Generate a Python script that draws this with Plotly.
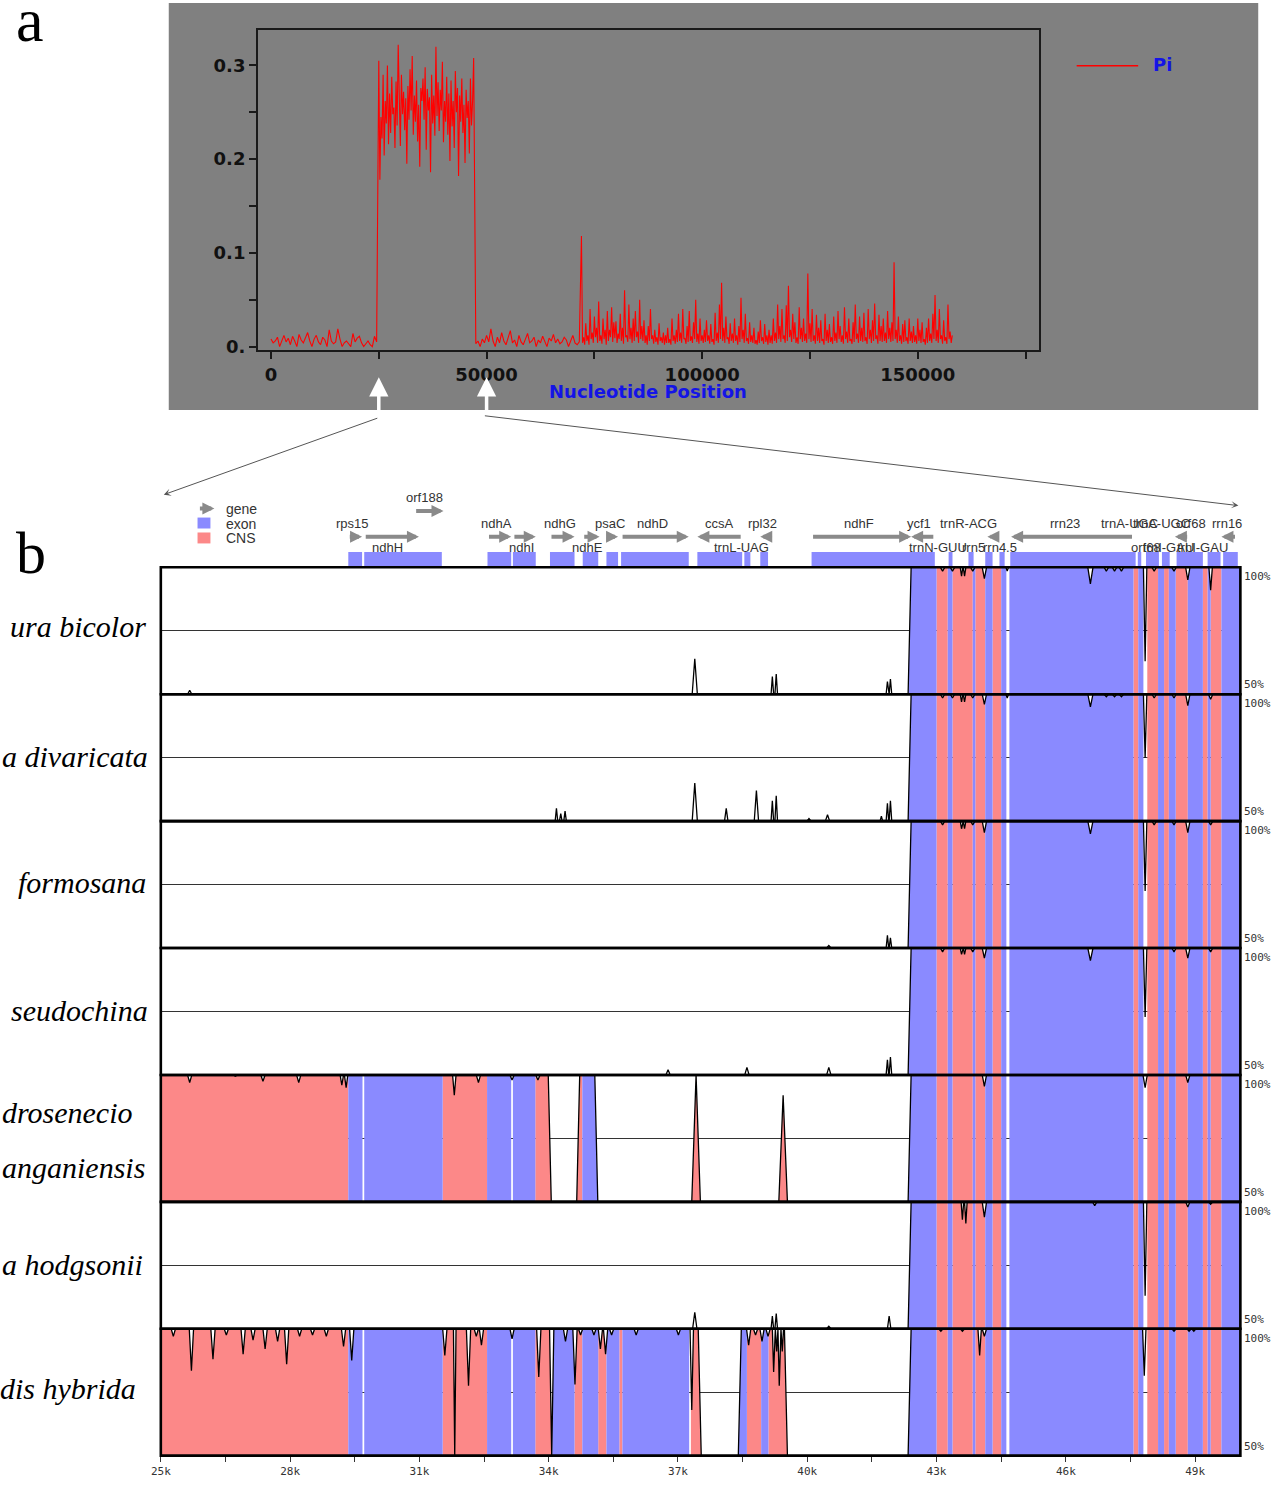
import numpy as np
import plotly.graph_objects as go

W, H = 1288, 1490


def px(x):
    return x / W


def py(y):
    return 1 - y / H


# ====================== DATA: panel a (nucleotide diversity, Pi) ======================
PI_SEG_A_START, PI_SEG_A_STEP = 0, 500
PI_SEG_A = [0.008, 0.004, 0.006, 0.010, 0.000, 0.007, 0.012, 0.005, 0.009, 0.002,
            0.011, 0.006, 0.000, 0.013, 0.007, 0.004, 0.009, 0.015, 0.006, 0.000,
            0.008, 0.012, 0.005, 0.002, 0.010, 0.007, 0.000, 0.018, 0.006, 0.003,
            0.005, 0.019, 0.008, 0.000, 0.004, 0.006, 0.003, 0.000, 0.014, 0.005,
            0.009, 0.011, 0.004, 0.000, 0.003, 0.006, 0.002, 0.000, 0.011, 0.005]
PI_SEG_B_START, PI_SEG_B_STEP = 25000, 250
PI_SEG_B = [0.305, 0.178, 0.245, 0.222, 0.290, 0.204, 0.262, 0.238, 0.300, 0.216,
            0.270, 0.228, 0.288, 0.248, 0.255, 0.212, 0.283, 0.236, 0.322, 0.262,
            0.214, 0.290, 0.248, 0.272, 0.231, 0.265, 0.195, 0.278, 0.242, 0.296,
            0.252, 0.310, 0.226, 0.268, 0.240, 0.284, 0.219, 0.258, 0.192, 0.276,
            0.262, 0.286, 0.242, 0.298, 0.210, 0.275, 0.252, 0.266, 0.186, 0.290,
            0.238, 0.268, 0.225, 0.320, 0.246, 0.282, 0.230, 0.274, 0.252, 0.304,
            0.218, 0.262, 0.240, 0.288, 0.226, 0.270, 0.198, 0.284, 0.235, 0.262,
            0.212, 0.294, 0.250, 0.276, 0.182, 0.268, 0.240, 0.286, 0.228, 0.258,
            0.196, 0.274, 0.244, 0.262, 0.206, 0.286, 0.236, 0.262, 0.308]
PI_SEG_C_START, PI_SEG_C_STEP = 47500, 500
PI_SEG_C = [0.003, 0.006, 0.000, 0.008, 0.004, 0.012, 0.005, 0.019, 0.006, 0.000,
            0.010, 0.004, 0.015, 0.006, 0.002, 0.009, 0.017, 0.004, 0.007, 0.000,
            0.012, 0.005, 0.002, 0.008, 0.014, 0.004, 0.006, 0.010, 0.000, 0.007,
            0.004, 0.011, 0.005, 0.000, 0.009, 0.006, 0.013, 0.004, 0.008, 0.003,
            0.005, 0.010, 0.007, 0.000, 0.006, 0.012, 0.004, 0.002, 0.005]
PI_SEG_D_START, PI_SEG_D_STEP = 72000, 250
PI_SEG_D = [0.118, 0.004, 0.010, 0.002, 0.025, 0.006, 0.012, 0.002, 0.040, 0.008,
            0.015, 0.004, 0.032, 0.010, 0.020, 0.004, 0.048, 0.006, 0.012, 0.003,
            0.030, 0.008, 0.018, 0.002, 0.038, 0.006, 0.018, 0.010, 0.042, 0.005,
            0.026, 0.009, 0.027, 0.004, 0.014, 0.008, 0.035, 0.006, 0.020, 0.003,
            0.060, 0.010, 0.012, 0.005, 0.045, 0.008, 0.020, 0.004, 0.030, 0.006,
            0.038, 0.010, 0.016, 0.004, 0.050, 0.008, 0.022, 0.006, 0.028, 0.004,
            0.012, 0.002, 0.022, 0.006, 0.040, 0.008, 0.012, 0.003, 0.018, 0.005,
            0.010, 0.002, 0.025, 0.006, 0.010, 0.004, 0.015, 0.002, 0.012, 0.004,
            0.020, 0.004, 0.008, 0.002, 0.030, 0.006, 0.012, 0.003, 0.018, 0.005,
            0.035, 0.006, 0.015, 0.004, 0.040, 0.008, 0.009, 0.003, 0.022, 0.005,
            0.038, 0.006, 0.011, 0.004, 0.026, 0.008, 0.050, 0.005, 0.014, 0.003,
            0.030, 0.006, 0.012, 0.004, 0.018, 0.005, 0.028, 0.006, 0.012, 0.003,
            0.024, 0.005, 0.008, 0.002, 0.036, 0.006, 0.015, 0.004, 0.045, 0.008,
            0.068, 0.006, 0.020, 0.004, 0.032, 0.008, 0.010, 0.003, 0.025, 0.006,
            0.014, 0.004, 0.030, 0.006, 0.012, 0.002, 0.022, 0.005, 0.052, 0.008,
            0.018, 0.004, 0.035, 0.006, 0.009, 0.003, 0.026, 0.005, 0.012, 0.004,
            0.020, 0.003, 0.007, 0.002, 0.016, 0.004, 0.028, 0.006, 0.010, 0.003,
            0.024, 0.005, 0.012, 0.002, 0.018, 0.004, 0.012, 0.003, 0.030, 0.006,
            0.015, 0.004, 0.045, 0.008, 0.022, 0.005, 0.040, 0.008, 0.012, 0.004,
            0.044, 0.006, 0.065, 0.010, 0.018, 0.005, 0.035, 0.008, 0.026, 0.004,
            0.010, 0.003, 0.042, 0.008, 0.020, 0.005, 0.030, 0.006, 0.014, 0.004,
            0.078, 0.008, 0.025, 0.005, 0.040, 0.006, 0.012, 0.003, 0.034, 0.006,
            0.020, 0.004, 0.028, 0.006, 0.008, 0.002, 0.035, 0.006, 0.018, 0.004,
            0.024, 0.005, 0.010, 0.003, 0.032, 0.006, 0.015, 0.004, 0.038, 0.008,
            0.022, 0.005, 0.012, 0.003, 0.042, 0.008, 0.016, 0.004, 0.030, 0.006,
            0.008, 0.003, 0.026, 0.005, 0.045, 0.008, 0.014, 0.004, 0.032, 0.006,
            0.020, 0.005, 0.036, 0.006, 0.010, 0.003, 0.040, 0.008, 0.018, 0.004,
            0.028, 0.006, 0.046, 0.008, 0.012, 0.003, 0.034, 0.006, 0.022, 0.005,
            0.030, 0.006, 0.015, 0.004, 0.038, 0.008, 0.020, 0.005, 0.026, 0.006,
            0.090, 0.008, 0.018, 0.004, 0.032, 0.006, 0.012, 0.003, 0.024, 0.005,
            0.028, 0.006, 0.010, 0.003, 0.030, 0.006, 0.016, 0.004, 0.022, 0.005,
            0.012, 0.003, 0.030, 0.006, 0.018, 0.004, 0.026, 0.005, 0.008, 0.002,
            0.020, 0.004, 0.030, 0.006, 0.014, 0.004, 0.035, 0.008, 0.055, 0.006,
            0.018, 0.004, 0.040, 0.008, 0.012, 0.003, 0.028, 0.006, 0.010, 0.003,
            0.045, 0.008, 0.016, 0.004, 0.012]

PI_X_TICKS = [0, 25000, 50000, 75000, 100000, 125000, 150000, 175000]
PI_X_TICKTEXT = ["0", "", "50000", "", "100000", "", "150000", ""]
PI_Y_TICKS = [0, 0.05, 0.1, 0.15, 0.2, 0.25, 0.3]
PI_Y_TICKTEXT = ["0.", "", "0.1", "", "0.2", "", "0.3"]
ZOOM_REGION = [25000, 50000]

# ====================== DATA: panel b (mVISTA conservation, kb) ======================
SPECIES_LABELS = [["ura bicolor"], ["a divaricata"], ["formosana"], ["seudochina"],
                  ["drosenecio", "anganiensis"], ["a hodgsonii"], ["dis hybrida"]]

# Annotated regions (shared by all tracks): start kb, end kb, type
BANDS = [
    (24.90, 29.35, "CNS"), (29.35, 29.68, "exon"), (29.72, 31.54, "exon"),
    (31.54, 32.57, "CNS"), (32.57, 33.13, "exon"), (33.17, 33.69, "exon"),
    (33.69, 34.08, "CNS"), (34.08, 34.60, "exon"), (34.60, 34.78, "CNS"),
    (34.78, 35.15, "exon"), (35.15, 35.34, "CNS"), (35.34, 35.64, "exon"),
    (35.64, 35.71, "CNS"), (35.71, 37.26, "exon"), (37.30, 37.56, "CNS"),
    (38.40, 38.60, "exon"), (38.60, 38.93, "CNS"), (38.93, 39.10, "exon"),
    (39.10, 39.62, "CNS"),
    (42.30, 43.00, "exon"), (43.00, 43.26, "CNS"), (43.26, 43.37, "exon"),
    (43.37, 43.84, "CNS"), (43.84, 43.90, "exon"), (43.90, 44.13, "CNS"),
    (44.13, 44.30, "exon"), (44.30, 44.50, "CNS"), (44.50, 44.62, "exon"),
    (44.69, 47.57, "exon"), (47.57, 47.68, "CNS"), (47.68, 47.80, "exon"),
    (47.89, 48.14, "CNS"), (48.14, 48.28, "exon"), (48.28, 48.39, "CNS"),
    (48.39, 48.55, "exon"), (48.55, 48.83, "CNS"), (48.83, 49.18, "exon"),
    (49.18, 49.29, "CNS"), (49.29, 49.36, "exon"), (49.36, 49.61, "CNS"),
    (49.61, 50.20, "exon"),
]

# Conserved (100%) stretches per track
TRACK_SEGMENTS = [
    [(42.41, 50.2)],
    [(42.41, 50.2)],
    [(42.41, 50.2)],
    [(42.41, 50.2)],
    [(24.9, 33.99), (34.72, 35.07), (42.41, 50.2)],
    [(42.41, 50.2)],
    [(24.9, 37.47), (38.47, 39.47), (42.41, 50.2)],
]

# Local peaks / dips per track: (kb, identity %, [half width kb])
TRACK_SPIKES = [
    [(25.67, 51.5), (37.39, 64, 0.06), (39.19, 57, 0.03), (39.28, 58, 0.03),
     (41.86, 55, 0.03), (41.93, 56, 0.03),
     (43.14, 98.5), (43.37, 98.5), (43.58, 96.5, 0.03), (43.65, 96.5, 0.03), (43.84, 98.5),
     (44.11, 95.5), (44.64, 98.5, 0.03), (46.57, 93.5, 0.06), (46.94, 98.5), (47.13, 98.5),
     (47.29, 98.5), (47.84, 63, 0.04), (48.05, 98.5), (48.51, 98.5), (48.83, 95),
     (49.36, 91, 0.04)],
    [(34.18, 55, 0.03), (34.28, 53, 0.03), (34.38, 54, 0.03), (37.39, 65, 0.06),
     (38.12, 55, 0.04), (38.82, 62, 0.05), (39.19, 58, 0.03), (39.28, 60, 0.03),
     (40.04, 51), (40.47, 52.5), (41.72, 52, 0.03), (41.86, 57, 0.03), (41.93, 58, 0.03),
     (43.14, 98.5), (43.37, 98.5), (43.58, 97, 0.03), (43.65, 97, 0.03), (43.84, 98.5),
     (44.11, 96), (44.64, 98.5, 0.03), (46.57, 95, 0.06), (46.94, 99), (47.13, 99),
     (47.29, 99), (47.84, 75, 0.04), (48.05, 98.5), (48.51, 98.5), (48.83, 95.5),
     (49.36, 98)],
    [(40.50, 51), (41.86, 55, 0.03), (41.93, 54, 0.03),
     (43.14, 98.5), (43.58, 97, 0.03), (43.65, 97, 0.03), (43.84, 98.5), (44.11, 95.5),
     (46.57, 95, 0.06), (47.84, 72.5, 0.04), (48.05, 98.5), (48.51, 98.5), (48.83, 95.5),
     (49.36, 98.5)],
    [(36.77, 52), (38.60, 53), (40.50, 53), (41.86, 56, 0.03), (41.93, 57, 0.03),
     (43.14, 98.5), (43.58, 97.5, 0.03), (43.65, 97.5, 0.03), (43.84, 98.5), (44.11, 96),
     (46.57, 95, 0.06), (47.84, 72.8, 0.04), (48.51, 98.5), (48.83, 96), (49.36, 98.5)],
    [(25.67, 97), (26.73, 99.5), (27.37, 97.5), (28.20, 97), (29.20, 96, 0.04),
     (29.30, 95, 0.04), (31.81, 92, 0.04), (32.37, 97), (33.15, 98), (33.75, 98),
     (37.42, 100, 0.10), (39.44, 92, 0.10),
     (44.11, 95.5), (47.84, 95), (48.83, 97)],
    [(37.39, 56.5, 0.05), (39.19, 55, 0.03), (39.28, 56, 0.03), (40.50, 51),
     (41.90, 55, 0.04),
     (43.60, 93, 0.03), (43.68, 91.5, 0.03), (44.11, 94), (46.67, 98.5), (47.84, 63, 0.04),
     (48.83, 98), (49.36, 99)],
    [(25.29, 97), (25.71, 83.5), (26.21, 88), (26.52, 97.5), (26.91, 90), (27.14, 95.5),
     (27.42, 92), (27.71, 95), (27.92, 86), (28.22, 97), (28.52, 97.5), (28.84, 97),
     (29.24, 93), (29.43, 87.5), (31.59, 89.5), (31.82, 50, 0.03), (32.14, 77.5),
     (32.32, 97), (32.44, 93.5), (33.15, 96), (33.77, 81), (34.07, 50, 0.05),
     (34.39, 95), (34.61, 78), (34.74, 97.5), (35.05, 97.5), (35.20, 92), (35.32, 90),
     (35.46, 97.5), (36.03, 97.5), (37.01, 97.5), (37.32, 68, 0.04),
     (38.64, 93.5), (38.80, 97.5), (38.95, 95), (39.09, 97), (39.22, 83, 0.03),
     (39.29, 91, 0.03), (39.35, 77.5, 0.03), (39.42, 91, 0.03),
     (43.10, 99), (43.60, 99), (44.00, 89.5, 0.04), (44.11, 97), (47.82, 81.5, 0.04),
     (48.51, 99), (48.86, 99), (48.97, 99)],
]

# Gene annotation: name, start kb, end kb, strand, label row, label x (kb)
GENES = [
    ("rps15", 29.35, 29.67, 1, "top", 29.44),
    ("ndhH", 29.72, 30.99, 1, "bot", 30.25),
    ("orf188", 30.89, 31.56, 1, "hi", 31.12),
    ("ndhA", 32.58, 33.13, 1, "top", 32.78),
    ("ndhI", 33.17, 33.70, 1, "bot", 33.38),
    ("ndhG", 34.03, 34.60, 1, "top", 34.26),
    ("ndhE", 34.79, 35.18, 1, "bot", 34.90),
    ("psaC", 35.34, 35.61, 1, "top", 35.43),
    ("ndhD", 35.68, 37.25, 1, "top", 36.42),
    ("ccsA", 37.45, 38.49, -1, "top", 37.96),
    ("trnL-UAG", 38.54, 38.63, -1, "bot", 38.47),
    ("rpl32", 38.91, 39.09, -1, "top", 38.95),
    ("ndhF", 40.10, 42.41, 1, "top", 41.21),
    ("ycf1", 42.41, 42.96, -1, "top", 42.60),
    ("trnN-GUU", 43.28, 43.37, 1, "bot", 43.04),
    ("trnR-ACG", 43.72, 43.82, -1, "top", 43.74),
    ("rrn5", 44.18, 44.30, -1, "bot", 43.86),
    ("rrn4.5", 44.50, 44.60, -1, "bot", 44.48),
    ("rrn23", 44.73, 47.57, -1, "top", 45.98),
    ("trnA-UGC", 47.64, 47.70, -1, "top", 47.47),
    ("orf68", 47.86, 47.92, 1, "bot", 47.86),
    ("trnA-UGC", 48.10, 48.18, 1, "top", 48.21),
    ("trnI-GAU", 48.28, 48.33, 1, "bot", 48.39),
    ("orf68", 48.53, 48.85, -1, "top", 48.90),
    ("trnI-GAU", 49.00, 49.08, -1, "bot", 49.18),
    ("", 49.22, 49.27, -1, "top", 49.25),
    ("rrn16", 49.61, 49.96, -1, "top", 49.73),
]

EXONS = [(29.35, 29.67), (29.72, 31.52), (32.58, 33.13), (33.17, 33.70), (34.03, 34.60),
         (34.79, 35.15), (35.34, 35.61), (35.68, 37.25), (37.45, 38.49), (38.54, 38.68),
         (38.91, 39.09), (40.10, 42.96), (43.28, 43.37), (43.74, 43.86), (44.13, 44.30),
         (44.46, 44.58), (44.71, 47.62), (47.67, 47.75), (47.86, 48.16), (48.23, 48.41),
         (48.57, 49.18), (49.29, 49.59), (49.65, 49.99)]

KB_TICKS = [25, 28, 31, 34, 37, 40, 43, 46, 49]
KB_TICKTEXT = ["25k", "28k", "31k", "34k", "37k", "40k", "43k", "46k", "49k"]

# ====================== STYLE ======================
BLUE = "rgb(138,138,255)"
PINK = "rgb(252,136,136)"
BAND_COLORS = {"exon": BLUE, "CNS": PINK}
GENE_GRAY = "#8a8a8a"
TRACK_TOP = 570.0
TRACK_H = 127.5
X_KB_RANGE = [25.0, 50.05]
LABEL_RIGHT_PX = [[139], [141], [139], [141], [126, 138], [136], [129]]
LABEL_DY = [[-4], [-1], [-2], [-1], [-26, 29], [-1], [-4]]
BOLD_FONT = "DejaVu Sans"

fig = go.Figure()

# ---------------- panel a ----------------
pi_x, pi_y = [], []
for start, step, seg in [(PI_SEG_A_START, PI_SEG_A_STEP, PI_SEG_A),
                         (PI_SEG_B_START, PI_SEG_B_STEP, PI_SEG_B),
                         (PI_SEG_C_START, PI_SEG_C_STEP, PI_SEG_C),
                         (PI_SEG_D_START, PI_SEG_D_STEP, PI_SEG_D)]:
    pi_x += [start + i * step for i in range(len(seg))]
    pi_y += list(seg)

fig.add_trace(go.Scatter(x=pi_x, y=pi_y, mode="lines", line=dict(color="#ff0000", width=1.1),
                         xaxis="x", yaxis="y", showlegend=False, hoverinfo="skip"))


# ---------------- panel b: tracks ----------------
def build_curve(segments, spikes, ramp=0.07):
    lx, ly = [24.0], [50.0]
    for s, e in segments:
        lx += [s - ramp, s, e, e + ramp]
        ly += [50.0, 100.0, 100.0, 50.0]
    lx.append(51.0)
    ly.append(50.0)
    pts = list(zip(lx, ly))
    for sp in spikes:
        c, v = sp[0], sp[1]
        w = sp[2] if len(sp) > 2 else 0.05
        lo = float(np.interp(c - w, lx, ly))
        hi = float(np.interp(c + w, lx, ly))
        pts += [(c - w, lo), (c, v), (c + w, hi)]
    pts.sort(key=lambda p: p[0])
    return np.array([p[0] for p in pts]), np.array([p[1] for p in pts])


n_tracks = len(TRACK_SEGMENTS)
for k in range(n_tracks):
    yname = f"y{k + 2}"
    X, Y = build_curve(TRACK_SEGMENTS[k], TRACK_SPIKES[k])
    polys = {"exon": ([], []), "CNS": ([], [])}
    for s, e, t in BANDS:
        m = (X > s) & (X < e)
        xs = [s] + list(X[m]) + [e]
        ys = [float(np.interp(s, X, Y))] + list(Y[m]) + [float(np.interp(e, X, Y))]
        if max(ys) < 70:
            continue
        polys[t][0].extend(xs + [e, s, None])
        polys[t][1].extend(ys + [49.0, 49.0, None])
    for t in ("CNS", "exon"):
        if polys[t][0]:
            fig.add_trace(go.Scatter(x=polys[t][0], y=polys[t][1], mode="lines", fill="toself",
                                     fillcolor=BAND_COLORS[t], line=dict(width=0),
                                     xaxis="x2", yaxis=yname, showlegend=False, hoverinfo="skip"))
    fig.add_trace(go.Scatter(x=X, y=Y, mode="lines", line=dict(color="black", width=1.3),
                             xaxis="x2", yaxis=yname, showlegend=False, hoverinfo="skip"))

# exon boxes in the annotation strip
fig.add_trace(go.Bar(x=[(a + b) / 2 for a, b in EXONS], y=[1.75] * len(EXONS),
                     width=[b - a for a, b in EXONS], base=0.12,
                     marker=dict(color=BLUE, line=dict(width=0)),
                     xaxis="x2", yaxis="y9", showlegend=False, hoverinfo="skip"))

# ---------------- layout ----------------
tick_font_a = dict(family=BOLD_FONT, size=18, color="#111", weight="bold")
layout = dict(
    width=W, height=H, margin=dict(l=0, r=0, t=0, b=0),
    paper_bgcolor="white", plot_bgcolor="rgba(0,0,0,0)", showlegend=False,
    xaxis=dict(domain=[px(250), px(1037)], range=[-3000, 178100], anchor="y",
               showgrid=False, zeroline=False, showline=True, mirror=True,
               linecolor="#1a1a1a", linewidth=2, ticks="outside", ticklen=7, tickwidth=1.5,
               tickcolor="#1a1a1a", tickvals=PI_X_TICKS, ticktext=PI_X_TICKTEXT,
               tickfont=tick_font_a),
    yaxis=dict(domain=[py(352), py(30)], range=[-0.004, 0.338], anchor="x",
               showgrid=False, zeroline=False, showline=True, mirror=True,
               linecolor="#1a1a1a", linewidth=2, ticks="outside", ticklen=7, tickwidth=1.5,
               tickcolor="#1a1a1a", tickvals=PI_Y_TICKS, ticktext=PI_Y_TICKTEXT,
               tickfont=tick_font_a),
    xaxis2=dict(domain=[px(152), px(1240)], range=X_KB_RANGE, anchor=f"y{n_tracks + 1}",
                showgrid=False, zeroline=False, showline=False, ticks="outside", ticklen=5,
                tickwidth=1.2, tickcolor="#333", tickvals=KB_TICKS, ticktext=KB_TICKTEXT,
                tickfont=dict(family="DejaVu Sans Mono", size=11, color="#333"),
                minor=dict(tickmode="linear", tick0=25, dtick=1.5, ticks="outside",
                           ticklen=5, tickwidth=1.2, tickcolor="#333")),
    yaxis9=dict(domain=[py(570), py(488)], range=[0, 10], anchor="x2", visible=False),
)
for k in range(n_tracks):
    top = TRACK_TOP + k * TRACK_H
    layout[f"yaxis{k + 2}"] = dict(domain=[py(top + TRACK_H), py(top)], range=[50, 100],
                                   anchor="x2", showgrid=True, gridcolor="#333",
                                   gridwidth=1.3, tickvals=[75], showticklabels=False,
                                   ticks="", zeroline=False, showline=False)
fig.update_layout(**layout)

shapes = []
annotations = []

# panel a grey background
shapes.append(dict(type="rect", xref="paper", yref="paper", x0=px(160), x1=px(1258),
                   y0=py(412), y1=py(3), fillcolor="#808080", line=dict(width=0), layer="below"))
# Pi legend
shapes.append(dict(type="line", xref="paper", yref="paper", x0=px(1075), x1=px(1137),
                   y0=py(66), y1=py(66), line=dict(color="#ff0000", width=1.5)))
annotations.append(dict(text="Pi", xref="paper", yref="paper", x=px(1150), y=py(65),
                        xanchor="left", yanchor="middle", showarrow=False,
                        font=dict(family=BOLD_FONT, size=18, color="#1414e6", weight="bold")))
annotations.append(dict(text="Nucleotide Position", xref="paper", yref="paper", x=px(643),
                        y=py(393), xanchor="center", yanchor="middle", showarrow=False,
                        font=dict(family=BOLD_FONT, size=18, color="#1414e6", weight="bold")))
# white zoom arrows under panel a (at the zoomed region bounds)
for zx in ZOOM_REGION:
    annotations.append(dict(text="", x=zx, y=py(379), xref="x", yref="paper", axref="pixel",
                            ayref="pixel", ax=0, ay=42, showarrow=True, arrowhead=2,
                            arrowsize=1.1, arrowwidth=3.5, arrowcolor="white"))
# thin connector lines
annotations.append(dict(text="", xref="paper", yref="paper", x=px(155), y=py(497),
                        ax=215, ay=-77, showarrow=True, arrowhead=3, arrowsize=1.2,
                        arrowwidth=1, arrowcolor="#555"))
annotations.append(dict(text="", xref="paper", yref="paper", x=px(1238), y=py(508),
                        ax=-755, ay=-90, showarrow=True, arrowhead=3, arrowsize=1.2,
                        arrowwidth=1, arrowcolor="#555"))

# panel letters
annotations.append(dict(text="a", xref="paper", yref="paper", x=px(4), y=py(20),
                        xanchor="left", yanchor="middle", showarrow=False,
                        font=dict(family="Liberation Serif", size=62, color="black")))
annotations.append(dict(text="b", xref="paper", yref="paper", x=px(4), y=py(556),
                        xanchor="left", yanchor="middle", showarrow=False,
                        font=dict(family="Liberation Serif", size=60, color="black")))

# track frames, percentage labels, species labels
for k in range(n_tracks):
    yname = f"y{k + 2}"
    top = TRACK_TOP + k * TRACK_H
    shapes.append(dict(type="rect", xref="x2 domain", yref=f"{yname} domain", x0=0, x1=1,
                       y0=0, y1=1, line=dict(color="black", width=2.6)))
    annotations.append(dict(text="100%", xref="paper", yref=yname, x=px(1242), y=100,
                            xanchor="left", yanchor="top", yshift=-1, showarrow=False,
                            font=dict(family="DejaVu Sans Mono", size=11, color="#333")))
    annotations.append(dict(text="50%", xref="paper", yref=yname, x=px(1242), y=50,
                            xanchor="left", yanchor="bottom", yshift=1, showarrow=False,
                            font=dict(family="DejaVu Sans Mono", size=11, color="#333")))
    center = top + TRACK_H / 2
    for line, rx, dy in zip(SPECIES_LABELS[k], LABEL_RIGHT_PX[k], LABEL_DY[k]):
        annotations.append(dict(text=f"<i>{line}</i>", xref="paper", yref="paper",
                                x=px(rx), y=py(center + dy), xanchor="right",
                                yanchor="middle", showarrow=False,
                                font=dict(family="Liberation Serif", size=30, color="black")))

# gene arrows and labels
ROW_Y = {"top": 5.35, "bot": 2.45, "hi": 8.6}
ARROW_Y = {"top": 3.75, "bot": 3.75, "hi": 6.9}
for name, s, e, strand, row, lx in GENES:
    head, tail = (e, s) if strand > 0 else (s, e)
    ay_ = ARROW_Y[row]
    annotations.append(dict(text="", xref="x2", yref="y9", axref="x2", ayref="y9",
                            x=head, y=ay_, ax=tail, ay=ay_, showarrow=True, arrowhead=2,
                            arrowsize=0.6, arrowwidth=4, arrowcolor=GENE_GRAY, standoff=0))
    if name:
        annotations.append(dict(text=name, xref="x2", yref="y9", x=lx, y=ROW_Y[row],
                                xanchor="center", yanchor="middle", showarrow=False,
                                font=dict(family="Liberation Sans", size=13, color="#333")))

# legend of panel b
annotations.append(dict(text="", xref="paper", yref="paper", x=px(206), y=py(511),
                        ax=-16, ay=0, showarrow=True, arrowhead=2, arrowsize=0.6,
                        arrowwidth=4, arrowcolor=GENE_GRAY))
shapes.append(dict(type="rect", xref="paper", yref="paper", x0=px(189), x1=px(202),
                   y0=py(531), y1=py(520), fillcolor=BLUE, line=dict(width=0)))
shapes.append(dict(type="rect", xref="paper", yref="paper", x0=px(189), x1=px(202),
                   y0=py(546), y1=py(535), fillcolor=PINK, line=dict(width=0)))
for txt, yy in [("gene", 511), ("exon", 526), ("CNS", 541)]:
    annotations.append(dict(text=txt, xref="paper", yref="paper", x=px(216), y=py(yy),
                            xanchor="left", yanchor="middle", showarrow=False,
                            font=dict(family="Liberation Sans", size=14, color="#333")))

fig.update_layout(shapes=shapes, annotations=annotations)
fig.write_html("out.html", config={"displayModeBar": False},
               post_script="document.body.style.margin='0px';"
                           "document.body.style.overflow='hidden';")
